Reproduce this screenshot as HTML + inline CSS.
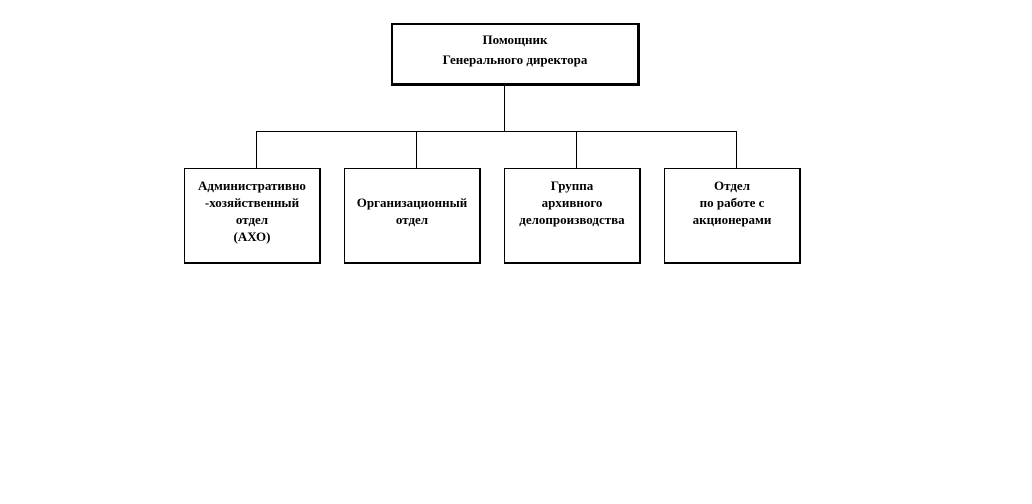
<!DOCTYPE html>
<html><head><meta charset="utf-8"><style>
body{margin:0;width:1032px;height:504px;background:#fff;position:relative;overflow:hidden;font-family:"Liberation Serif",serif;font-weight:bold;font-size:13px;color:#000}
.b{position:absolute;box-sizing:border-box;text-align:center;background:#fff}
.s{border:1px solid #000;border-right-width:2px;border-bottom-width:2px;width:137px;height:96px;top:168px;padding-top:8px;line-height:17px}
.l{position:absolute;background:#000}
</style></head><body>
<div class="b" style="left:391px;top:23px;width:249px;height:63px;border:2px solid #000;border-right-width:3px;border-bottom-width:3px;padding-top:5px;line-height:20px">Помощник<br>Генерального директора</div>
<div class="l" style="left:504px;top:86px;width:1px;height:45px"></div>
<div class="l" style="left:256px;top:131px;width:481px;height:1px"></div>
<div class="l" style="left:256px;top:131px;width:1px;height:37px"></div>
<div class="l" style="left:416px;top:131px;width:1px;height:37px"></div>
<div class="l" style="left:576px;top:131px;width:1px;height:37px"></div>
<div class="l" style="left:736px;top:131px;width:1px;height:37px"></div>
<div class="b s" style="left:184px">Административно<br>-хозяйственный<br>отдел<br>(АХО)</div>
<div class="b s" style="left:344px;padding-top:25px">Организационный<br>отдел</div>
<div class="b s" style="left:504px">Группа<br>архивного<br>делопроизводства</div>
<div class="b s" style="left:664px">Отдел<br>по работе с<br>акционерами</div>
</body></html>
